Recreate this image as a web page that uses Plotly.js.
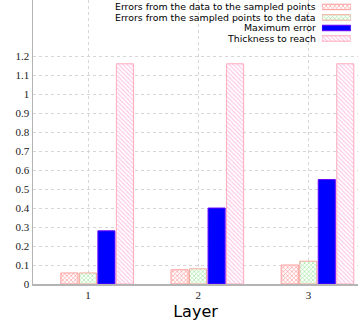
<!DOCTYPE html>
<html>
<head>
<meta charset="utf-8">
<script src="https://cdn.plot.ly/plotly-3.0.1.min.js"></script>
<style>html,body{margin:0;padding:0;background:#fff;}#chart{width:358px;height:324px;}</style>
</head>
<body>
<div id="chart"></div>
<script>
// Data
var layers = [1, 2, 3];
var errDataToSampled = [0.058, 0.075, 0.10];
var errSampledToData = [0.058, 0.08, 0.12];
var maxError = [0.28, 0.40, 0.55];
var thickness = [1.16, 1.16, 1.16];
var seriesNames = [
  'Errors from the data to the sampled points',
  'Errors from the sampled points to the data',
  'Maximum error',
  'Thickness to reach'
];
var yTicks = [0, 0.1, 0.2, 0.3, 0.4, 0.5, 0.6, 0.7, 0.8, 0.9, 1, 1.1, 1.2];
var yTickText = ['0', '0.1', '0.2', '0.3', '0.4', '0.5', '0.6', '0.7', '0.8', '0.9', '1', '1.1', '1.2'];

var series = [errDataToSampled, errSampledToData, maxError, thickness];
var styles = [
  {color: '#ffffff', pattern: {shape: 'x', fgcolor: '#ff9a9a', bgcolor: '#ffffff', size: 3, solidity: 0.4}, line: {color: '#ff9a9a', width: 1}},
  {color: '#ffffff', pattern: {shape: 'x', fgcolor: '#9ee89e', bgcolor: '#ffffff', size: 3, solidity: 0.4}, line: {color: '#f0aa9a', width: 1}},
  {color: '#0000ff', line: {color: '#6a00ff', width: 1}},
  {color: '#ffffff', pattern: {shape: '\\', fgcolor: '#ffc0e4', bgcolor: '#ffffff', size: 3, solidity: 0.35}, line: {color: '#ffaabb', width: 1}}
];
var offsets = [-0.247, -0.079, 0.089, 0.257];
var barWidth = 0.155;

var traces = [];
for (var i = 0; i < 4; i++) {
  traces.push({
    type: 'bar', x: layers, y: series[i], name: seriesNames[i],
    offset: offsets[i], width: barWidth, marker: styles[i],
    showlegend: false, hoverinfo: 'skip'
  });
}
// Legend swatches (key drawn gnuplot-style: text left, sample right)
for (var j = 0; j < 4; j++) {
  traces.push({
    type: 'bar', orientation: 'h', x: [1], y: [j], base: 0, width: 0.52,
    xaxis: 'x2', yaxis: 'y2', marker: styles[j], showlegend: false, hoverinfo: 'skip'
  });
}

var annotations = seriesNames.map(function (n, k) {
  return {
    text: n, xref: 'x2', yref: 'y2', x: 0, y: k, xanchor: 'right', yanchor: 'middle',
    xshift: -4, showarrow: false,
    font: {family: 'DejaVu Sans', size: 9.4, color: '#000'}
  };
});

var layout = {
  width: 358, height: 324,
  margin: {l: 33, r: 0, t: 0, b: 40},
  paper_bgcolor: '#fff', plot_bgcolor: '#fff',
  showlegend: false,
  xaxis: {
    range: [0.5, 3.45], tickvals: layers, ticktext: ['1', '2', '3'],
    showgrid: true, gridcolor: '#d6d6d6', griddash: '3px,3px', gridwidth: 1,
    zeroline: false, showline: true, linecolor: '#b4b4b4', linewidth: 1.5,
    ticks: '', tickfont: {family: 'Liberation Serif', size: 11, color: '#222'},
    title: {text: 'Layer', font: {family: 'DejaVu Sans', size: 16, color: '#000'}, standoff: 6}
  },
  yaxis: {
    range: [0, 1.496], tickvals: yTicks, ticktext: yTickText,
    showgrid: true, gridcolor: '#d6d6d6', griddash: '3px,3px', gridwidth: 1,
    zeroline: false, showline: true, linecolor: '#b4b4b4', linewidth: 1.5,
    ticks: '', tickfont: {family: 'Liberation Serif', size: 11, color: '#222'}
  },
  xaxis2: {domain: [0.889, 0.978], range: [0, 1], anchor: 'y2', visible: false, fixedrange: true},
  yaxis2: {domain: [0.846, 0.994], range: [3.5, -0.5], anchor: 'x2', visible: false, fixedrange: true},
  annotations: annotations,
  bargap: 0
};

Plotly.newPlot('chart', traces, layout, {staticPlot: true, displayModeBar: false});
</script>
</body>
</html>
